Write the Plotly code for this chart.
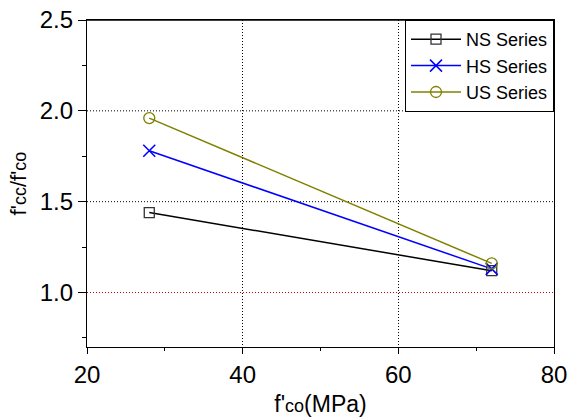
import plotly.graph_objects as go

x_vals = [28, 72]
ns_vals = [1.44, 1.12]
hs_vals = [1.78, 1.13]
us_vals = [1.96, 1.16]
series_names = ["NS Series", "HS Series", "US Series"]

fig = go.Figure()
fig.add_trace(go.Scatter(x=x_vals, y=ns_vals, name=series_names[0], mode="lines+markers",
                         line=dict(color="black", width=1.5),
                         marker=dict(symbol="square-open", size=10, color="#333333", line=dict(width=1.3))))
fig.add_trace(go.Scatter(x=x_vals, y=hs_vals, name=series_names[1], mode="lines+markers",
                         line=dict(color="#0000ff", width=1.5),
                         marker=dict(symbol="x-thin-open", size=12, color="#0000ff", line=dict(width=1.5, color="#0000ff"))))
fig.add_trace(go.Scatter(x=x_vals, y=us_vals, name=series_names[2], mode="lines+markers",
                         line=dict(color="#808000", width=1.5),
                         marker=dict(symbol="circle-open", size=11, color="#808000", line=dict(width=1.3))))

for yv, col in [(1.5, "black"), (2.0, "black"), (1.0, "#cc0000")]:
    fig.add_shape(type="line", xref="x", yref="y", x0=20, x1=80, y0=yv, y1=yv,
                  line=dict(color=col, width=1, dash="1px,2px"), layer="below")

font_family = "Liberation Sans, Arial, sans-serif"
fig.update_layout(
    width=569, height=417,
    margin=dict(l=87, r=15, t=20, b=70),
    plot_bgcolor="white", paper_bgcolor="white",
    font=dict(family=font_family, color="black"),
    showlegend=True,
    legend=dict(x=1, y=1, xanchor="right", yanchor="top", bordercolor="black", borderwidth=1,
                bgcolor="white", font=dict(size=18, family=font_family), tracegroupgap=0,
                itemwidth=50),
    xaxis=dict(range=[20, 80], tickvals=[20, 40, 60, 80], ticks="outside", ticklen=6, tickwidth=1.3,
               tickcolor="black", showline=True, linecolor="black", linewidth=1.3, mirror=True,
               showgrid=True, gridcolor="black", griddash="1px,2px", gridwidth=1, automargin=False,
               minor=dict(tickvals=[30, 50, 70], ticks="outside", ticklen=3, tickcolor="black", showgrid=False),
               tickfont=dict(size=24), zeroline=False,
               title=dict(text="f'<span style='font-size:18px'>co</span>(MPa)", font=dict(size=23), standoff=8)),
    yaxis=dict(range=[0.7, 2.5], tickvals=[1.0, 1.5, 2.0, 2.5], ticktext=["1.0", "1.5", "2.0", "2.5"],
               ticks="outside", ticklen=8, tickwidth=1.3, automargin=False,
               tickcolor="black", showline=True, linecolor="black", linewidth=1.3, mirror=True,
               showgrid=False, zeroline=False,
               minor=dict(tickvals=[0.75, 1.25, 1.75, 2.25], ticks="outside", ticklen=4, tickcolor="black", showgrid=False),
               tickfont=dict(size=24),
               title=dict(text="f'<span style='font-size:18px'>cc</span>/f'<span style='font-size:18px'>co</span>",
                          font=dict(size=22), standoff=6)),
)
fig.add_shape(type="line", xref="x", yref="y", x0=20, x1=80, y0=2.5, y1=2.5,
              line=dict(color="black", width=1.3))

fig.write_html("out.html")
